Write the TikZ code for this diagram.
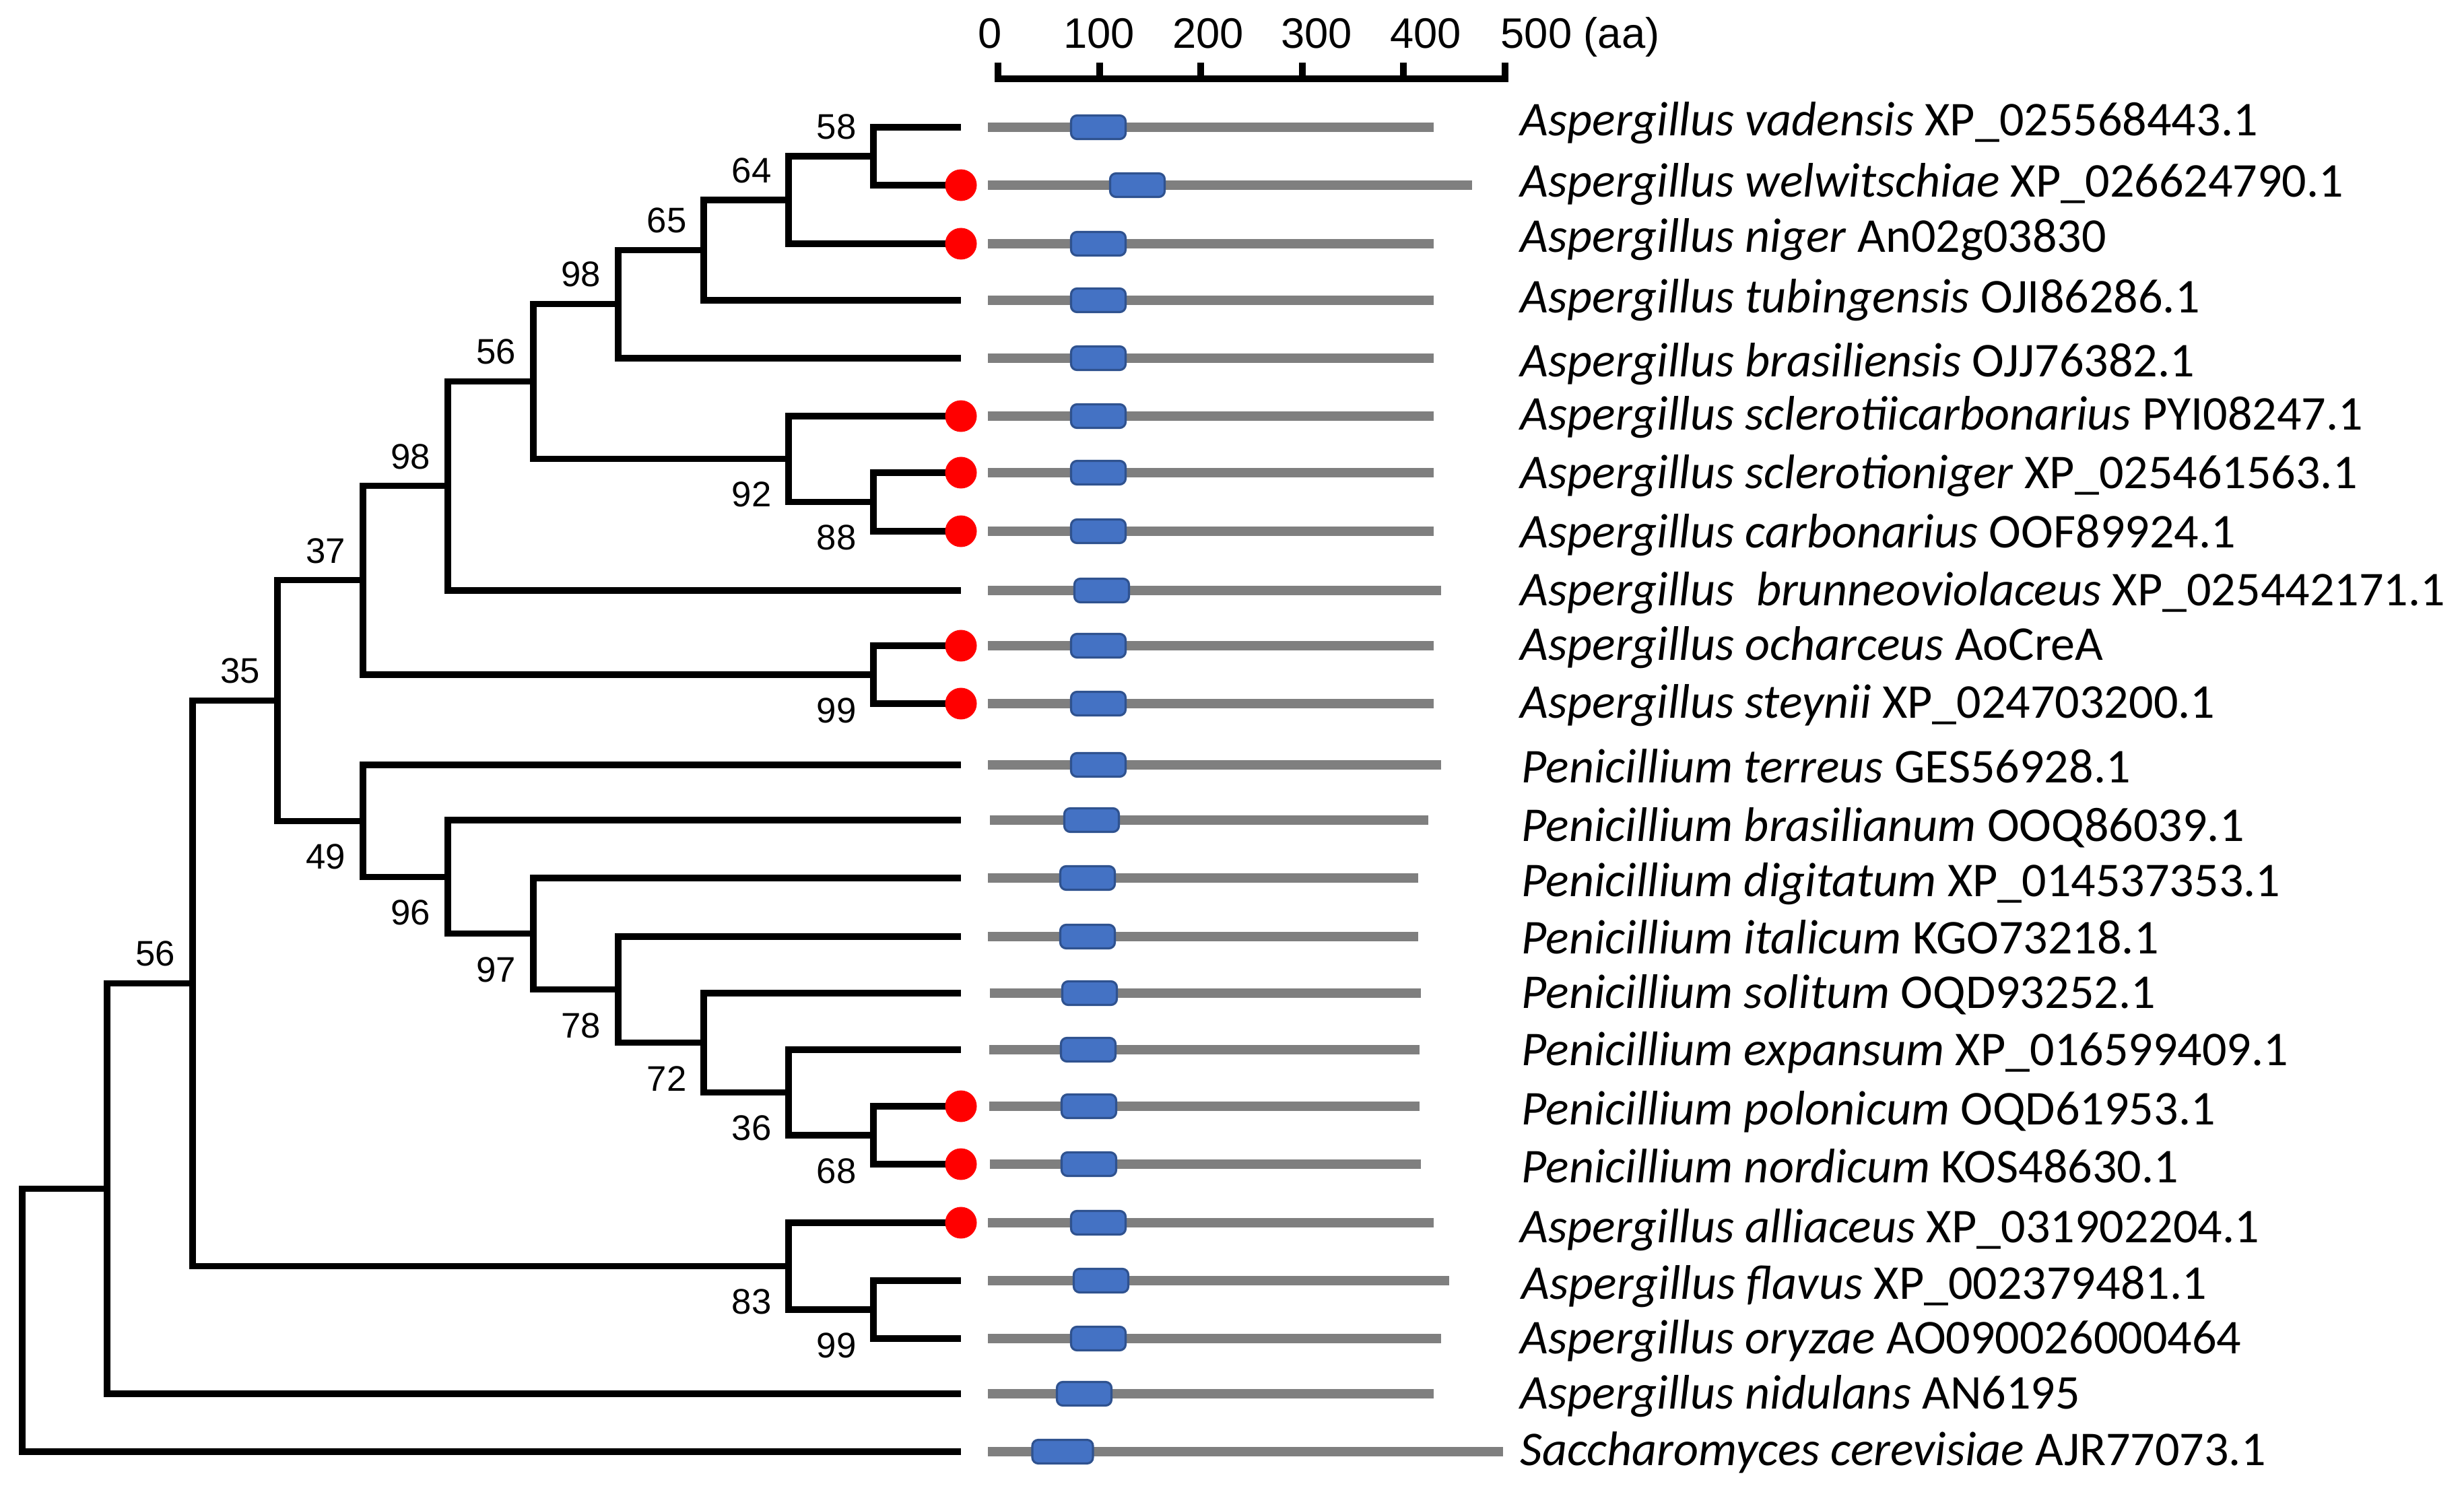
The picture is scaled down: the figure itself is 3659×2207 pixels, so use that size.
\documentclass[tikz,border=0pt]{standalone}
\usepackage{fontspec}
\setmainfont{Carlito}
\newfontfamily\arialfont{Liberation Sans}
\definecolor{bargray}{HTML}{7F7F7F}
\definecolor{domblue}{HTML}{4472C4}
\definecolor{domedge}{HTML}{2F528F}
\tikzset{
  branch/.style={line width=2.6pt, line join=miter, black},
  bs/.style={font=\arialfont\fontsize{15}{18}\selectfont, inner sep=0pt},
  sc/.style={font=\arialfont\fontsize{18}{21}\selectfont, inner sep=0pt, anchor=base},
  dot/.style={circle, fill=red, inner sep=0pt, minimum size=0.47cm},
  bar/.style={draw=bargray, line width=4.2pt},
  dom/.style={draw=domedge, fill=domblue, line width=0.9pt, rounded corners=2.5pt,
    minimum width=0.81cm, minimum height=0.35cm, inner sep=0pt},
  sp/.style={anchor=base west, inner sep=0pt, font=\fontsize{20.5}{24}\selectfont}
}
\begin{document}
\begin{tikzpicture}[x=0.01cm,y=-0.01cm]
\useasboundingbox (0,0) rectangle (3659,2207);

% leaves
\coordinate (l1) at (1427,189);
\coordinate (l2) at (1427,275);
\coordinate (l3) at (1427,362);
\coordinate (l4) at (1427,446);
\coordinate (l5) at (1427,532);
\coordinate (l6) at (1427,618);
\coordinate (l7) at (1427,702);
\coordinate (l8) at (1427,789);
\coordinate (l9) at (1427,877);
\coordinate (l10) at (1427,959);
\coordinate (l11) at (1427,1045);
\coordinate (l12) at (1427,1136);
\coordinate (l13) at (1427,1218);
\coordinate (l14) at (1427,1304);
\coordinate (l15) at (1427,1391);
\coordinate (l16) at (1427,1475);
\coordinate (l17) at (1427,1559);
\coordinate (l18) at (1427,1643);
\coordinate (l19) at (1427,1729);
\coordinate (l20) at (1427,1816);
\coordinate (l21) at (1427,1902);
\coordinate (l22) at (1427,1988);
\coordinate (l23) at (1427,2070);
\coordinate (l24) at (1427,2156);

% inner nodes
\coordinate (n58) at (1297,232);
\coordinate (n64) at (1171,297);
\coordinate (n65) at (1045,371.5);
\coordinate (n98a) at (918,451.75);
\coordinate (n88) at (1297,745.5);
\coordinate (n92) at (1171,681.75);
\coordinate (n56a) at (792,566.75);
\coordinate (n98b) at (665,721.9);
\coordinate (n99a) at (1297,1002);
\coordinate (n37) at (539,861.9);
\coordinate (n68) at (1297,1686);
\coordinate (n36) at (1171,1622.5);
\coordinate (n72) at (1045,1548.75);
\coordinate (n78) at (918,1469.9);
\coordinate (n97) at (792,1386.9);
\coordinate (n96) at (665,1302.5);
\coordinate (n49) at (539,1219.2);
\coordinate (n35) at (412,1040.6);
\coordinate (n99b) at (1297,1945);
\coordinate (n83) at (1171,1880.5);
\coordinate (n56b) at (286,1460.5);
\coordinate (n56c) at (159,1765.3);
\coordinate (root) at (33,1960.6);

% branches
\path[draw,branch] (n58) |- (l1);
\path[draw,branch] (n58) |- (l2);
\path[draw,branch] (n64) |- (n58);
\path[draw,branch] (n64) |- (l3);
\path[draw,branch] (n65) |- (n64);
\path[draw,branch] (n65) |- (l4);
\path[draw,branch] (n98a) |- (n65);
\path[draw,branch] (n98a) |- (l5);
\path[draw,branch] (n88) |- (l7);
\path[draw,branch] (n88) |- (l8);
\path[draw,branch] (n92) |- (l6);
\path[draw,branch] (n92) |- (n88);
\path[draw,branch] (n56a) |- (n98a);
\path[draw,branch] (n56a) |- (n92);
\path[draw,branch] (n98b) |- (n56a);
\path[draw,branch] (n98b) |- (l9);
\path[draw,branch] (n99a) |- (l10);
\path[draw,branch] (n99a) |- (l11);
\path[draw,branch] (n37) |- (n98b);
\path[draw,branch] (n37) |- (n99a);
\path[draw,branch] (n68) |- (l18);
\path[draw,branch] (n68) |- (l19);
\path[draw,branch] (n36) |- (l17);
\path[draw,branch] (n36) |- (n68);
\path[draw,branch] (n72) |- (l16);
\path[draw,branch] (n72) |- (n36);
\path[draw,branch] (n78) |- (l15);
\path[draw,branch] (n78) |- (n72);
\path[draw,branch] (n97) |- (l14);
\path[draw,branch] (n97) |- (n78);
\path[draw,branch] (n96) |- (l13);
\path[draw,branch] (n96) |- (n97);
\path[draw,branch] (n49) |- (l12);
\path[draw,branch] (n49) |- (n96);
\path[draw,branch] (n35) |- (n37);
\path[draw,branch] (n35) |- (n49);
\path[draw,branch] (n99b) |- (l21);
\path[draw,branch] (n99b) |- (l22);
\path[draw,branch] (n83) |- (l20);
\path[draw,branch] (n83) |- (n99b);
\path[draw,branch] (n56b) |- (n35);
\path[draw,branch] (n56b) |- (n83);
\path[draw,branch] (n56c) |- (n56b);
\path[draw,branch] (n56c) |- (l23);
\path[draw,branch] (root) |- (n56c);
\path[draw,branch] (root) |- (l24);

% bootstrap values
\node[bs] (b58) at (1297-55,232-44) {58};
\node[bs] (b64) at (1171-55,297-44) {64};
\node[bs] (b65) at (1045-55,371.5-44) {65};
\node[bs] (b98a) at (918-55,451.75-44) {98};
\node[bs] (b56a) at (792-55,566.75-44) {56};
\node[bs] (b98b) at (665-55,721.9-44) {98};
\node[bs] (b37) at (539-55,861.9-44) {37};
\node[bs] (b35) at (412-55,1040.6-44) {35};
\node[bs] (b56b) at (286-55,1460.5-44) {56};
\node[bs] (b92) at (1171-55,681.75+53) {92};
\node[bs] (b88) at (1297-55,745.5+53) {88};
\node[bs] (b99a) at (1297-55,1002+53) {99};
\node[bs] (b49) at (539-55,1219.2+53) {49};
\node[bs] (b96) at (665-55,1302.5+53) {96};
\node[bs] (b97) at (792-55,1386.9+53) {97};
\node[bs] (b78) at (918-55,1469.9+53) {78};
\node[bs] (b72) at (1045-55,1548.75+53) {72};
\node[bs] (b36) at (1171-55,1622.5+53) {36};
\node[bs] (b68) at (1297-55,1686+53) {68};
\node[bs] (b83) at (1171-55,1880.5+53) {83};
\node[bs] (b99b) at (1297-55,1945+53) {99};

% red dots
\node[dot] (d2) at (l2) {};
\node[dot] (d3) at (l3) {};
\node[dot] (d6) at (l6) {};
\node[dot] (d7) at (l7) {};
\node[dot] (d8) at (l8) {};
\node[dot] (d10) at (l10) {};
\node[dot] (d11) at (l11) {};
\node[dot] (d18) at (l18) {};
\node[dot] (d19) at (l19) {};
\node[dot] (d20) at (l20) {};

% scale
\path[draw,line width=2.8pt,line join=miter] (1482,93) -- (1482,117) -- (2235,117) -- (2235,93);
\path[draw,line width=2.8pt] (1633,117) -- (1633,93);
\path[draw,line width=2.8pt] (1783,117) -- (1783,93);
\path[draw,line width=2.8pt] (1934,117) -- (1934,93);
\path[draw,line width=2.8pt] (2084,117) -- (2084,93);
\node[sc] (s0) at (1470,72) {0};
\node[sc] (s100) at (1632,72) {100};
\node[sc] (s200) at (1794,72) {200};
\node[sc] (s300) at (1955,72) {300};
\node[sc] (s400) at (2117,72) {400};
\node[sc,anchor=base west] (s500) at (2228,72) {500 (aa)};

% proteins
\path[draw,bar] (1467,189) -- (2129,189);
\path[draw,bar] (1467,275) -- (2186,275);
\path[draw,bar] (1467,362) -- (2129,362);
\path[draw,bar] (1467,446) -- (2129,446);
\path[draw,bar] (1467,532) -- (2129,532);
\path[draw,bar] (1467,618) -- (2129,618);
\path[draw,bar] (1467,702) -- (2129,702);
\path[draw,bar] (1467,789) -- (2129,789);
\path[draw,bar] (1467,877) -- (2140,877);
\path[draw,bar] (1467,959) -- (2129,959);
\path[draw,bar] (1467,1045) -- (2129,1045);
\path[draw,bar] (1467,1136) -- (2140,1136);
\path[draw,bar] (1470,1218) -- (2121,1218);
\path[draw,bar] (1467,1304) -- (2106,1304);
\path[draw,bar] (1467,1391) -- (2106,1391);
\path[draw,bar] (1470,1475) -- (2110,1475);
\path[draw,bar] (1469,1559) -- (2108,1559);
\path[draw,bar] (1469,1643) -- (2108,1643);
\path[draw,bar] (1470,1729) -- (2110,1729);
\path[draw,bar] (1467,1816) -- (2129,1816);
\path[draw,bar] (1467,1902) -- (2152,1902);
\path[draw,bar] (1467,1988) -- (2140,1988);
\path[draw,bar] (1467,2070) -- (2129,2070);
\path[draw,bar] (1467,2156) -- (2232,2156);

\node[dom] (m1) at (1631,189) {};
\node[dom] (m2) at (1689,275) {};
\node[dom] (m3) at (1631,362) {};
\node[dom] (m4) at (1631,446) {};
\node[dom] (m5) at (1631,532) {};
\node[dom] (m6) at (1631,618) {};
\node[dom] (m7) at (1631,702) {};
\node[dom] (m8) at (1631,789) {};
\node[dom] (m9) at (1636,877) {};
\node[dom] (m10) at (1631,959) {};
\node[dom] (m11) at (1631,1045) {};
\node[dom] (m12) at (1631,1136) {};
\node[dom] (m13) at (1621,1218) {};
\node[dom] (m14) at (1615,1304) {};
\node[dom] (m15) at (1615,1391) {};
\node[dom] (m16) at (1618,1475) {};
\node[dom] (m17) at (1616,1559) {};
\node[dom] (m18) at (1617,1643) {};
\node[dom] (m19) at (1617,1729) {};
\node[dom] (m20) at (1631,1816) {};
\node[dom] (m21) at (1635,1902) {};
\node[dom] (m22) at (1631,1988) {};
\node[dom] (m23) at (1610,2070) {};
\node[dom,minimum width=0.9cm] (m24) at (1578,2156) {};

% species names
\node[sp] (t1) at (2257,202) {\textit{Aspergillus vadensis} XP\_025568443.1};
\node[sp] (t2) at (2257,293) {\textit{Aspergillus welwitschiae} XP\_026624790.1};
\node[sp] (t3) at (2257,375) {\textit{Aspergillus niger} An02g03830};
\node[sp] (t4) at (2257,465) {\textit{Aspergillus tubingensis} OJI86286.1};
\node[sp] (t5) at (2257,560) {\textit{Aspergillus brasiliensis} OJJ76382.1};
\node[sp] (t6) at (2257,639) {\textit{Aspergillus sclerotiicarbonarius} PYI08247.1};
\node[sp] (t7) at (2257,726) {\textit{Aspergillus sclerotioniger} XP\_025461563.1};
\node[sp] (t8) at (2257,814) {\textit{Aspergillus carbonarius} OOF89924.1};
\node[sp] (t9) at (2257,900) {\textit{Aspergillus\ \ brunneoviolaceus} XP\_025442171.1};
\node[sp] (t10) at (2257,981) {\textit{Aspergillus ocharceus} AoCreA};
\node[sp] (t11) at (2257,1067) {\textit{Aspergillus steynii} XP\_024703200.1};
\node[sp] (t12) at (2259,1163) {\textit{Penicillium terreus} GES56928.1};
\node[sp] (t13) at (2259,1250) {\textit{Penicillium brasilianum} OOQ86039.1};
\node[sp] (t14) at (2259,1332) {\textit{Penicillium digitatum} XP\_014537353.1};
\node[sp] (t15) at (2259,1417) {\textit{Penicillium italicum} KGO73218.1};
\node[sp] (t16) at (2259,1498) {\textit{Penicillium solitum} OQD93252.1};
\node[sp] (t17) at (2259,1583) {\textit{Penicillium expansum} XP\_016599409.1};
\node[sp] (t18) at (2259,1670) {\textit{Penicillium polonicum} OQD61953.1};
\node[sp] (t19) at (2259,1756) {\textit{Penicillium nordicum} KOS48630.1};
\node[sp] (t20) at (2257,1845) {\textit{Aspergillus alliaceus} XP\_031902204.1};
\node[sp] (t21) at (2259,1929) {\textit{Aspergillus flavus} XP\_002379481.1};
\node[sp] (t22) at (2257,2010) {\textit{Aspergillus oryzae} AO090026000464};
\node[sp] (t23) at (2257,2092) {\textit{Aspergillus nidulans} AN6195};
\node[sp] (t24) at (2257,2176) {\textit{Saccharomyces cerevisiae} AJR77073.1};
\end{tikzpicture}
\end{document}
